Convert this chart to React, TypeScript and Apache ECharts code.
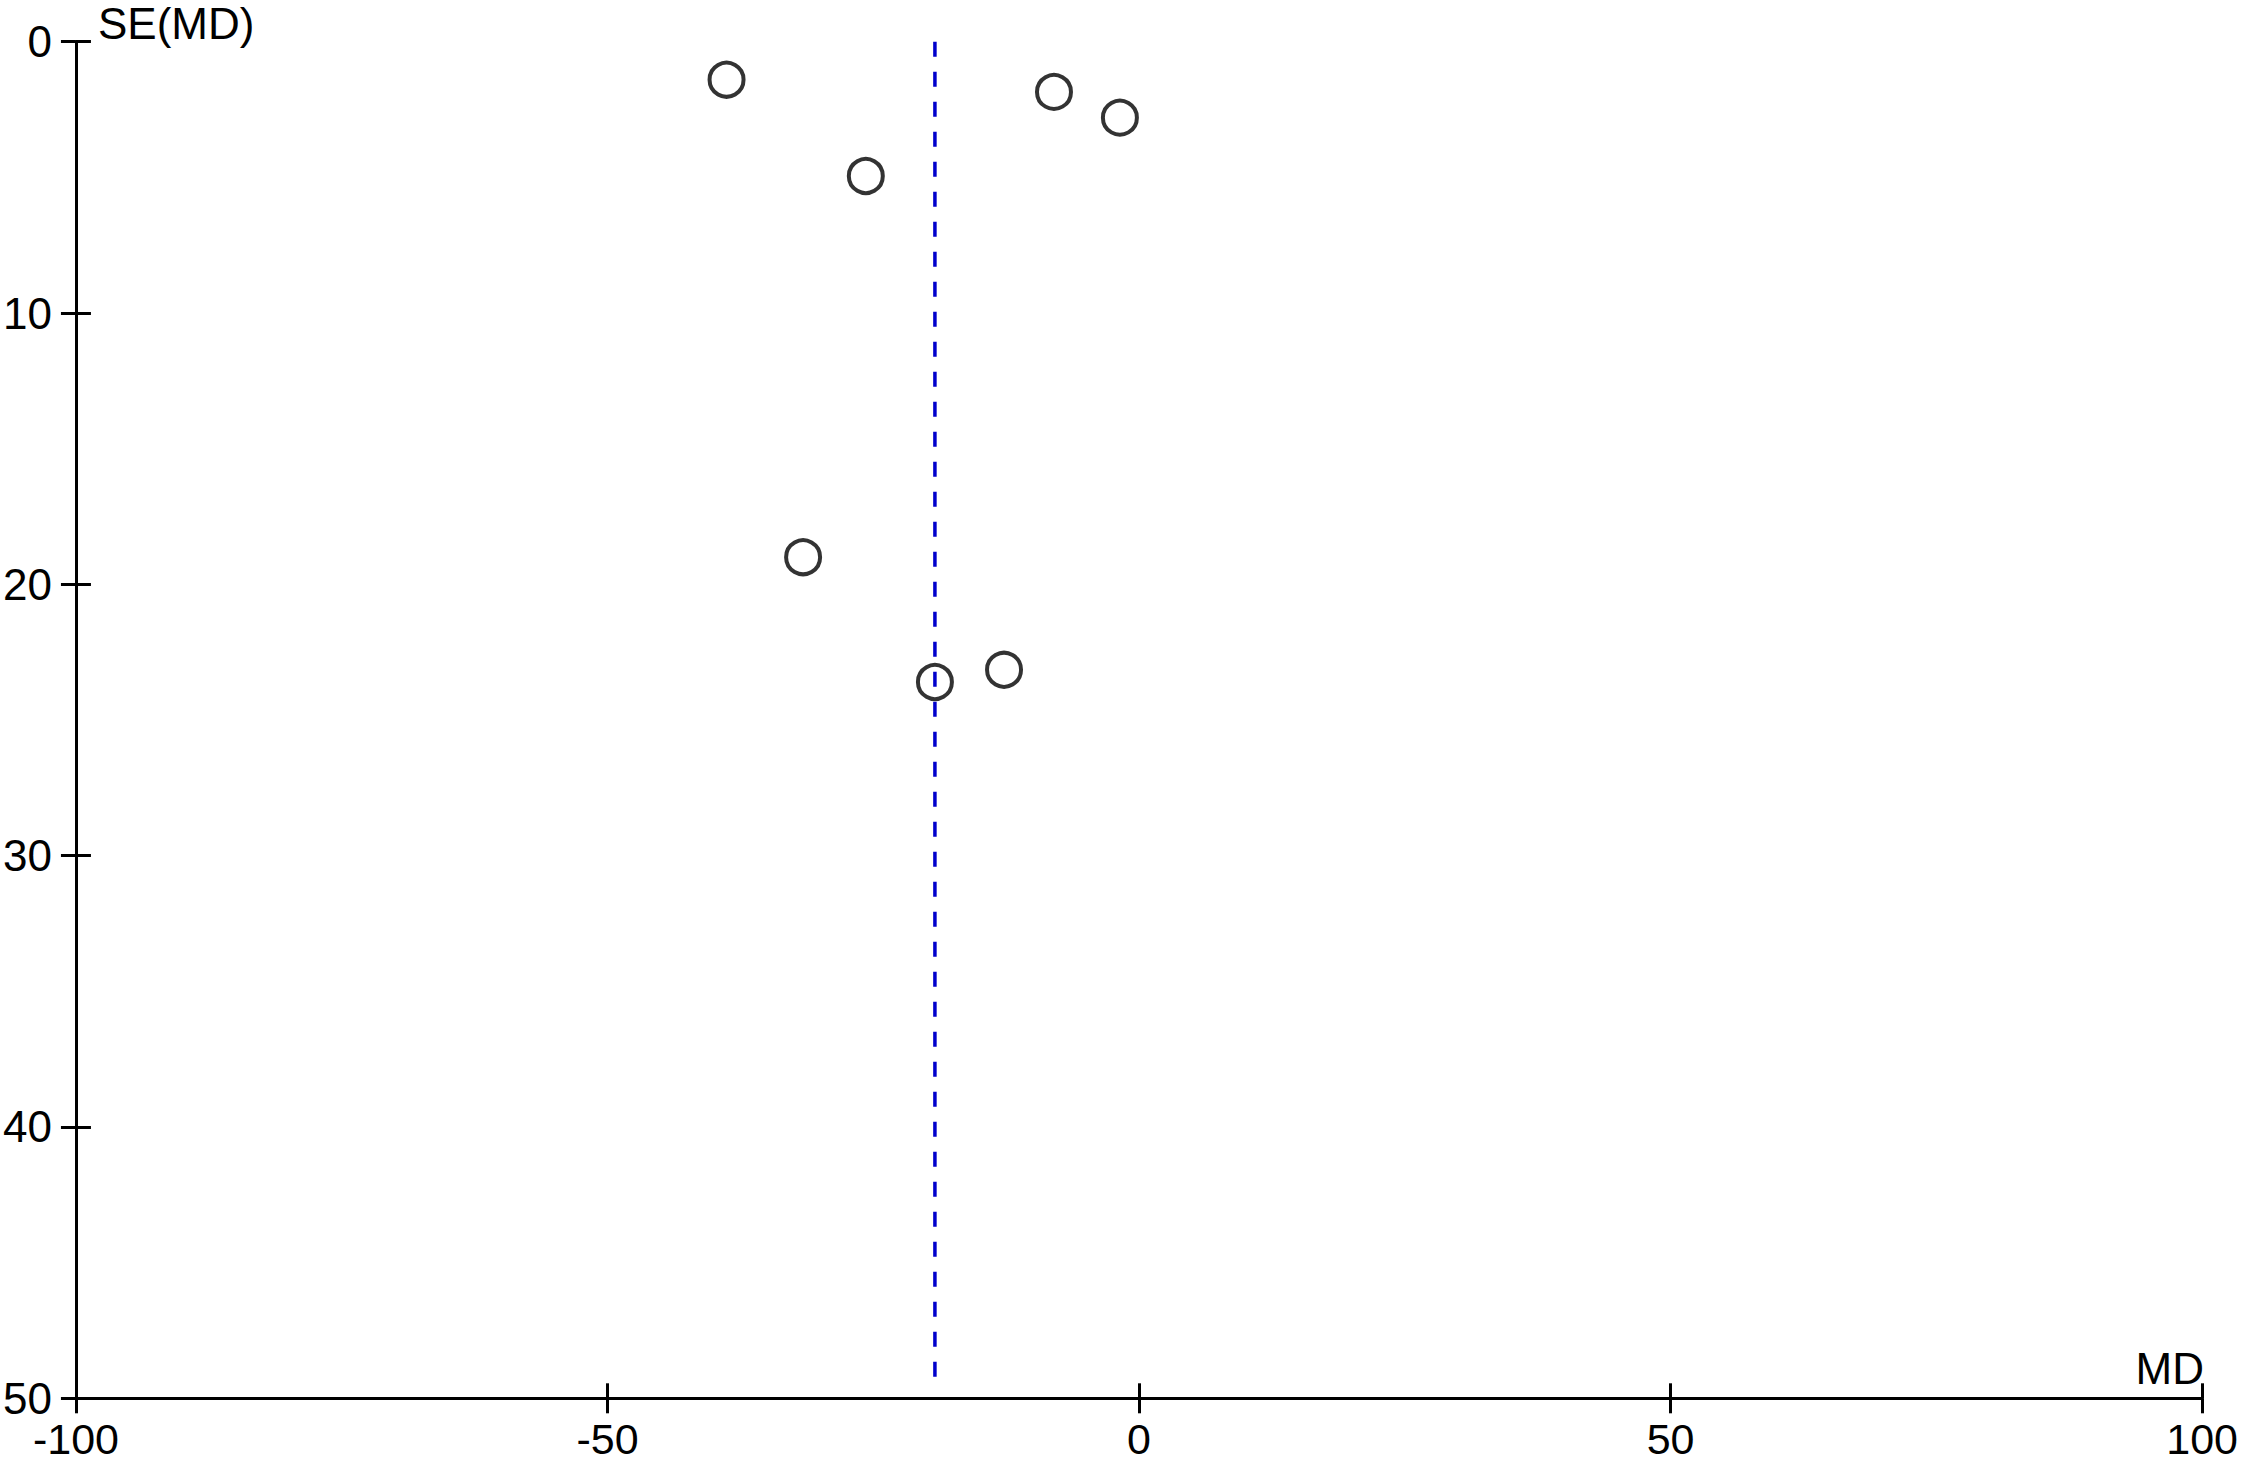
import React, { useEffect, useRef } from "react";
import * as echarts from "echarts";

const mdValues = [-38.8, -25.7, -8.0, -1.8, -31.6, -19.2, -12.7];
const seValues = [1.4, 4.95, 1.85, 2.8, 19.0, 23.6, 23.15];
const pooledMD = -19.2;
const lineSE = [0, 49.4];
const xTicks = { min: -100, max: 100, interval: 50 };
const yTicks = { min: 0, max: 50, interval: 10 };
const xName = "MD";
const yName = "SE(MD)";

const FONT = '"Liberation Sans", Arial, sans-serif';

export default function App() {
  const ref = useRef<HTMLDivElement>(null);
  useEffect(() => {
    if (!ref.current) return;
    const chart = echarts.init(ref.current, undefined, { renderer: "svg" });
    const points = mdValues.map((m, i) => [m, seValues[i]]);
    const linePts = lineSE.map((s) => [pooledMD, s]);
    const tickStyle = { color: "#000", width: 3 };
    chart.setOption({
      animation: false,
      backgroundColor: "#fff",
      grid: { left: 75, right: 38.7, top: 41.7, bottom: 65.7, containLabel: false },
      xAxis: [
        {
          type: "value",
          position: "bottom",
          ...xTicks,
          axisLine: { show: true, onZero: false, lineStyle: { color: "#000", width: 3 } },
          splitLine: { show: false },
          axisTick: { show: true, inside: false, length: 15, lineStyle: tickStyle },
          axisLabel: {
            show: true,
            color: "#000",
            fontSize: 43,
            lineHeight: 34,
            fontFamily: FONT,
            margin: 24,
            showMinLabel: true,
            showMaxLabel: true,
          },
        },
        {
          type: "value",
          position: "bottom",
          ...xTicks,
          axisLine: { show: false, onZero: false },
          splitLine: { show: false },
          axisTick: { show: true, inside: true, length: 15, lineStyle: tickStyle },
          axisLabel: { show: false },
        },
      ],
      yAxis: [
        {
          type: "value",
          position: "left",
          inverse: true,
          ...yTicks,
          axisLine: { show: true, onZero: false, lineStyle: { color: "#000", width: 3 } },
          splitLine: { show: false },
          axisTick: { show: true, inside: false, length: 15, lineStyle: tickStyle },
          axisLabel: {
            show: true,
            color: "#000",
            fontSize: 44,
            fontFamily: FONT,
            margin: 24,
            padding: [17, 0, 0, 0],
            showMinLabel: true,
            showMaxLabel: true,
          },
        },
        {
          type: "value",
          position: "left",
          inverse: true,
          ...yTicks,
          axisLine: { show: false, onZero: false },
          splitLine: { show: false },
          axisTick: { show: true, inside: true, length: 15, lineStyle: tickStyle },
          axisLabel: { show: false },
        },
      ],
      graphic: [
        {
          type: "text",
          x: 98,
          y: 23,
          style: { text: yName, font: `44px ${FONT}`, fill: "#000", align: "left", verticalAlign: "middle" },
        },
        {
          type: "text",
          x: 2204,
          y: 1368,
          style: { text: xName, font: `44px ${FONT}`, fill: "#000", align: "right", verticalAlign: "middle" },
        },
      ],
      series: [
        {
          type: "line",
          xAxisIndex: 0,
          yAxisIndex: 0,
          data: linePts,
          symbol: "none",
          lineStyle: { color: "#0000CC", width: 3.5, type: [15, 15] },
          z: 3,
        },
        {
          type: "scatter",
          xAxisIndex: 0,
          yAxisIndex: 0,
          data: points,
          symbol: "circle",
          symbolSize: 34,
          itemStyle: { color: "transparent", borderColor: "#000", borderWidth: 4 },
          z: 2,
        },
      ],
    });
    return () => chart.dispose();
  }, []);
  return (
    <div
      ref={ref}
      style={{ position: "fixed", left: 0, top: 0, width: 2241, height: 1464, background: "#fff" }}
    />
  );
}
